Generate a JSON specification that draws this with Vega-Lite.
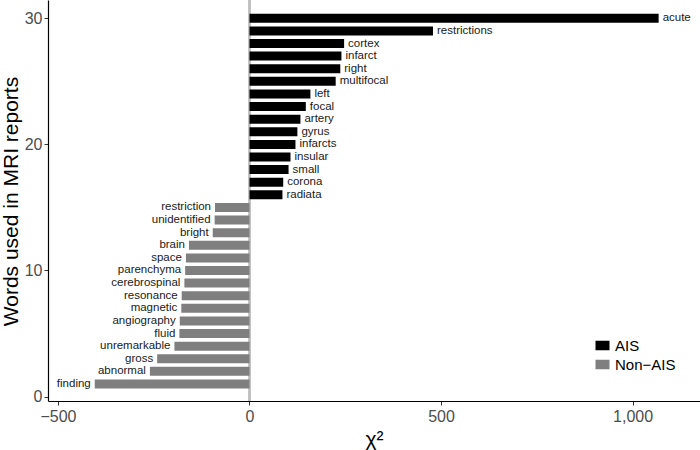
{
  "$schema": "https://vega.github.io/schema/vega-lite/v6.json",
  "autosize": {"type": "none"},
  "width": 652,
  "height": 401,
  "padding": {"left": 48, "top": 0, "right": 0, "bottom": 49},
  "background": "white",
  "config": {
    "view": {"stroke": null},
    "font": "Liberation Sans",
    "axis": {
      "grid": false,
      "domainColor": "#000000",
      "domainWidth": 1.2,
      "tickColor": "#333333",
      "tickSize": 4,
      "labelColor": "#4d4d4d",
      "labelFontSize": 16,
      "labelFont": "Liberation Sans",
      "titleFont": "Liberation Sans",
      "titleFontWeight": "normal",
      "titleFontSize": 21,
      "titleColor": "#000000"
    }
  },
  "data": {
    "values": [
      {"word": "acute", "rank": 30, "chisq": 1068, "group": "AIS"},
      {"word": "restrictions", "rank": 29, "chisq": 479, "group": "AIS"},
      {"word": "cortex", "rank": 28, "chisq": 247, "group": "AIS"},
      {"word": "infarct", "rank": 27, "chisq": 240, "group": "AIS"},
      {"word": "right", "rank": 26, "chisq": 237, "group": "AIS"},
      {"word": "multifocal", "rank": 25, "chisq": 225, "group": "AIS"},
      {"word": "left", "rank": 24, "chisq": 159, "group": "AIS"},
      {"word": "focal", "rank": 23, "chisq": 147, "group": "AIS"},
      {"word": "artery", "rank": 22, "chisq": 133, "group": "AIS"},
      {"word": "gyrus", "rank": 21, "chisq": 125, "group": "AIS"},
      {"word": "infarcts", "rank": 20, "chisq": 120, "group": "AIS"},
      {"word": "insular", "rank": 19, "chisq": 107, "group": "AIS"},
      {"word": "small", "rank": 18, "chisq": 102, "group": "AIS"},
      {"word": "corona", "rank": 17, "chisq": 88, "group": "AIS"},
      {"word": "radiata", "rank": 16, "chisq": 86, "group": "AIS"},
      {"word": "restriction", "rank": 15, "chisq": -90, "group": "Non-AIS"},
      {"word": "unidentified", "rank": 14, "chisq": -91, "group": "Non-AIS"},
      {"word": "bright", "rank": 13, "chisq": -96, "group": "Non-AIS"},
      {"word": "brain", "rank": 12, "chisq": -158, "group": "Non-AIS"},
      {"word": "space", "rank": 11, "chisq": -166, "group": "Non-AIS"},
      {"word": "parenchyma", "rank": 10, "chisq": -168, "group": "Non-AIS"},
      {"word": "cerebrospinal", "rank": 9, "chisq": -170, "group": "Non-AIS"},
      {"word": "resonance", "rank": 8, "chisq": -177, "group": "Non-AIS"},
      {"word": "magnetic", "rank": 7, "chisq": -178, "group": "Non-AIS"},
      {"word": "angiography", "rank": 6, "chisq": -182, "group": "Non-AIS"},
      {"word": "fluid", "rank": 5, "chisq": -183, "group": "Non-AIS"},
      {"word": "unremarkable", "rank": 4, "chisq": -196, "group": "Non-AIS"},
      {"word": "gross", "rank": 3, "chisq": -241, "group": "Non-AIS"},
      {"word": "abnormal", "rank": 2, "chisq": -260, "group": "Non-AIS"},
      {"word": "finding", "rank": 1, "chisq": -404, "group": "Non-AIS"}
    ]
  },
  "layer": [
    {
      "mark": {"type": "rule", "color": "#bebebe", "strokeWidth": 1.2},
      "encoding": {"x": {"datum": 0, "type": "quantitative"}}
    },
    {
      "mark": {"type": "bar", "size": 9},
      "encoding": {
        "x": {
          "field": "chisq", "type": "quantitative",
          "scale": {"domain": [-526, 1176], "nice": false, "zero": false, "padding": 0},
          "axis": {"values": [-500, 0, 500, 1000], "format": ",.0f", "title": "χ²", "labelPadding": 3, "titlePadding": 4}
        },
        "x2": {"datum": 0},
        "y": {
          "field": "rank", "type": "quantitative",
          "scale": {"domain": [-0.35, 31.45], "nice": false, "zero": false, "padding": 0},
          "axis": {"values": [0, 10, 20, 30], "title": "Words used in MRI reports", "labelPadding": 2, "titleX": -31, "titleY": 201, "titleBaseline": "alphabetic", "titleAngle": -90, "titleAlign": "center"}
        },
        "color": {
          "field": "group", "type": "nominal",
          "scale": {"domain": ["AIS", "Non-AIS"], "range": ["#000000", "#7f7f7f"]},
          "legend": {
            "title": null,
            "orient": "none",
            "legendX": 547,
            "legendY": 338,
            "labelFontSize": 15,
            "labelColor": "#000000",
            "labelFont": "Liberation Sans",
            "labelExpr": "replace(datum.label, '-', '−')",
            "symbolType": "M-1,-0.68H1V0.68H-1Z",
            "symbolSize": 196,
            "symbolStrokeWidth": 0,
            "labelOffset": 5,
            "rowPadding": 3
          }
        }
      }
    },
    {
      "transform": [{"filter": "datum.group === 'AIS'"}],
      "mark": {"type": "text", "align": "left", "baseline": "middle", "dx": 4, "fontSize": 11.5, "color": "#1a1a1a"},
      "encoding": {
        "x": {"field": "chisq", "type": "quantitative"},
        "y": {"field": "rank", "type": "quantitative"},
        "text": {"field": "word"}
      }
    },
    {
      "transform": [{"filter": "datum.group === 'Non-AIS'"}],
      "mark": {"type": "text", "align": "right", "baseline": "middle", "dx": -4, "fontSize": 11.5, "color": "#1a1a1a"},
      "encoding": {
        "x": {"field": "chisq", "type": "quantitative"},
        "y": {"field": "rank", "type": "quantitative"},
        "text": {"field": "word"}
      }
    }
  ]
}
